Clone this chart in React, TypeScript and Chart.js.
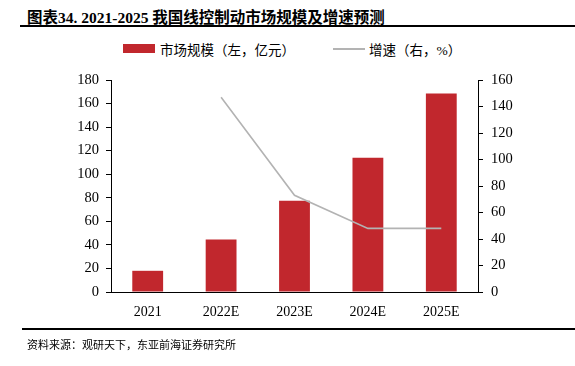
import React, { useEffect, useRef } from "react";
import { Chart, registerables } from "chart.js";

Chart.register(...registerables);

const categories = ["2021", "2022E", "2023E", "2024E", "2025E"];
const marketSize = [18, 44.5, 77.5, 114, 168.5];
const growth = [null, 147, 73, 48, 48];
const leftTicks = [0, 20, 40, 60, 80, 100, 120, 140, 160, 180];
const rightTicks = [0, 20, 40, 60, 80, 100, 120, 140, 160];

const RED = "#C1272D";
const GRAY = "#B3B3B3";
const SERIF = "'Liberation Serif', 'Times New Roman', 'Noto Sans CJK SC', serif";
const CJK = "'Liberation Serif', 'Noto Sans CJK SC', serif";

export default function App() {
  const ref = useRef<HTMLCanvasElement | null>(null);

  useEffect(() => {
    if (!ref.current) return;
    const chart = new Chart(ref.current, {
      type: "bar",
      data: {
        labels: categories,
        datasets: [
          {
            type: "line",
            label: "增速（右，%）",
            data: growth,
            yAxisID: "y1",
            borderColor: GRAY,
            backgroundColor: GRAY,
            borderWidth: 1.6,
            pointRadius: 0,
            tension: 0,
            order: 0,
          } as any,
          {
            type: "bar",
            label: "市场规模（左，亿元）",
            data: marketSize,
            yAxisID: "y",
            backgroundColor: RED,
            borderWidth: 0,
            categoryPercentage: 1,
            barPercentage: 0.42,
            order: 1,
          },
        ],
      },
      options: {
        animation: false,
        responsive: false,
        maintainAspectRatio: false,
        layout: { padding: { top: 20, left: 0, right: 0, bottom: 0 } },
        plugins: { legend: { display: false }, tooltip: { enabled: false } },
        scales: {
          x: {
            grid: { display: false },
            border: { display: true, color: "#000", width: 1 },
            ticks: { color: "#000", font: { family: SERIF, size: 14 }, padding: 4 },
            afterFit: (s: any) => { s.height = 38; },
          },
          y: {
            position: "left",
            min: 0,
            max: 180,
            afterBuildTicks: (s: any) => { s.ticks = leftTicks.map((v) => ({ value: v })); },
            grid: { drawOnChartArea: false, drawTicks: true, tickLength: 5, color: "#000" },
            border: { display: true, color: "#000", width: 1 },
            ticks: { color: "#000", font: { family: SERIF, size: 14.5 }, padding: 7 },
            afterFit: (s: any) => { s.width = 111; },
          },
          y1: {
            position: "right",
            min: 0,
            max: 160,
            afterBuildTicks: (s: any) => { s.ticks = rightTicks.map((v) => ({ value: v })); },
            grid: { drawOnChartArea: false, drawTicks: true, tickLength: 5, color: "#000" },
            border: { display: true, color: "#000", width: 1 },
            ticks: { color: "#000", font: { family: SERIF, size: 14.5 }, padding: 8 },
            afterFit: (s: any) => { s.width = 97; },
          },
        },
      },
    });
    return () => chart.destroy();
  }, []);

  return (
    <div style={{ position: "absolute", left: 0, top: 0, width: 575, height: 366, background: "#fff", overflow: "hidden" }}>
      <div style={{ position: "absolute", left: 27, top: 5, fontFamily: CJK, fontWeight: "bold", fontSize: 15.5, color: "#000", whiteSpace: "nowrap" }}>
        图表34. 2021-2025 我国线控制动市场规模及增速预测
      </div>
      <div style={{ position: "absolute", left: 20, top: 25, width: 555, height: 2, background: "#000" }} />
      <div style={{ position: "absolute", left: 123, top: 44, width: 32, height: 9, background: RED }} />
      <div style={{ position: "absolute", left: 160, top: 39, fontFamily: CJK, fontSize: 13.5, color: "#000", whiteSpace: "nowrap" }}>
        市场规模（左，亿元）
      </div>
      <div style={{ position: "absolute", left: 333, top: 48, width: 32, height: 1.6, background: GRAY }} />
      <div style={{ position: "absolute", left: 369, top: 39, fontFamily: CJK, fontSize: 13.5, color: "#000", whiteSpace: "nowrap" }}>
        增速（右，%）
      </div>
      <canvas ref={ref} width={575} height={270} style={{ position: "absolute", left: 0, top: 60, width: 575, height: 270 }} />
      <div style={{ position: "absolute", left: 22, top: 328, width: 553, height: 2, background: "#000" }} />
      <div style={{ position: "absolute", left: 27, top: 336, fontFamily: CJK, fontSize: 11, color: "#000", whiteSpace: "nowrap" }}>
        资料来源：观研天下，东亚前海证券研究所
      </div>
    </div>
  );
}
